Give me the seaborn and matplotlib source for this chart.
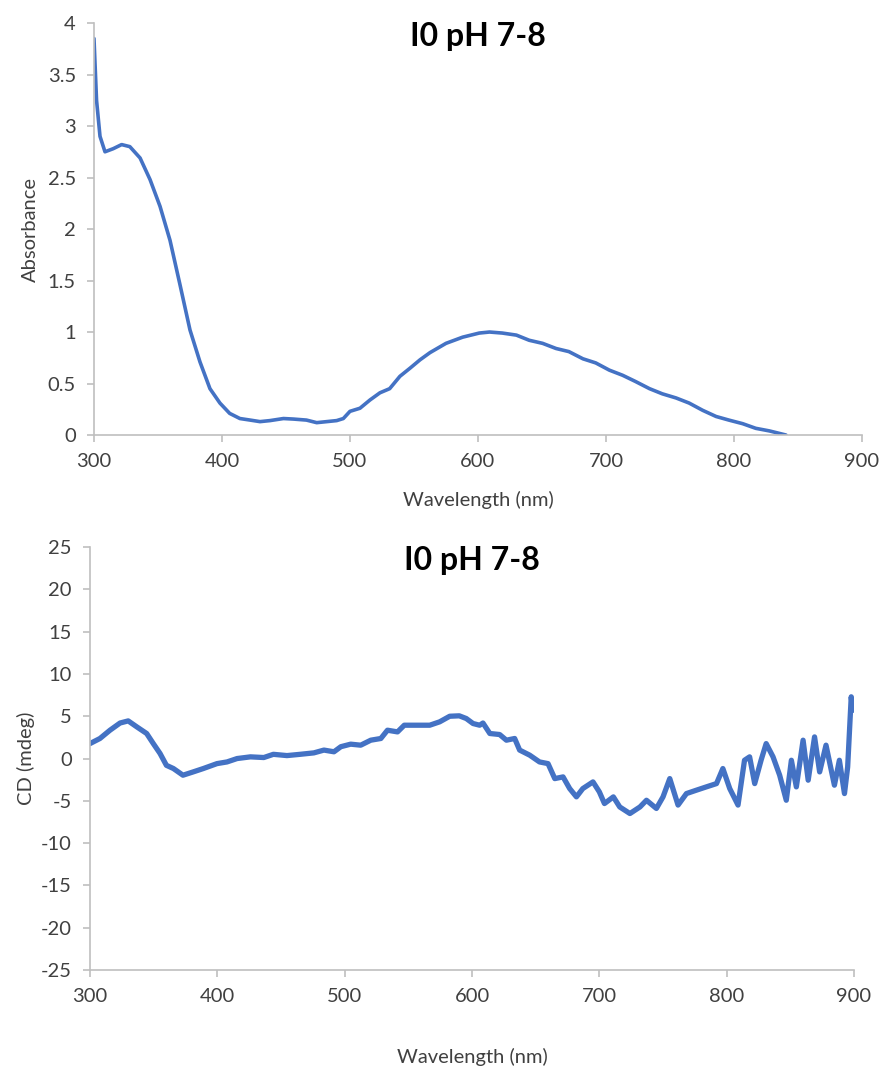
import matplotlib
matplotlib.use("Agg")
import matplotlib.pyplot as plt
import seaborn as sns
from matplotlib.ticker import FuncFormatter

# data
abs_wl = [300, 302, 304.7, 308.6, 315, 321.6, 328, 336, 343.8, 351.6, 359.4, 367, 375,
          382.8, 390.6, 398.4, 406, 414, 422, 429.7, 437.5, 448, 455.7, 466, 474, 481.8,
          489.6, 494.8, 500, 507.8, 515.6, 523.4, 531, 539, 547, 554.7, 562.5, 575, 588,
          601, 609, 619, 630, 640, 650.5, 661, 671, 682, 692, 702.6, 713, 723, 734, 744,
          754.7, 765, 775.5, 786, 796, 806.8, 817, 827.6, 840.6]
absorbance = [3.85, 3.25, 2.9, 2.75, 2.78, 2.82, 2.8, 2.69, 2.48, 2.22, 1.89, 1.47, 1.02,
              0.71, 0.45, 0.31, 0.21, 0.16, 0.145, 0.13, 0.14, 0.16, 0.155, 0.145, 0.12, 0.13,
              0.14, 0.16, 0.23, 0.26, 0.34, 0.41, 0.45, 0.57, 0.65, 0.73, 0.8, 0.89, 0.95,
              0.99, 1.0, 0.99, 0.97, 0.92, 0.89, 0.84, 0.81, 0.74, 0.7, 0.63, 0.58, 0.52, 0.45,
              0.4, 0.36, 0.31, 0.24, 0.18, 0.145, 0.11, 0.065, 0.04, 0.0]

cd_wl = [300, 307.8, 315.7, 323.6, 330, 336.7, 344.5, 349.7, 355, 360, 365.5, 373, 381,
         389, 399.7, 407.6, 415.5, 426, 436.5, 444, 454.7, 465, 475.8, 483.7, 491.6, 497,
         504.7, 512.6, 520.5, 528.4, 533.6, 541.5, 546.8, 557.3, 566.8, 574.6, 582.5, 590,
         595.5, 600.8, 606, 608.6, 614, 621.7, 627, 633.5, 637.4, 645.3, 653, 659.7, 665,
         671.5, 676.7, 682, 687, 695, 700, 704, 711, 716, 724, 731.9, 737, 744.8, 750,
         755.3, 761.8, 768.4, 776, 784, 792, 797, 802.4, 808.9, 814, 818, 822, 827, 831,
         836.4, 841.6, 846.8, 850.8, 854.7, 860, 864, 869, 873, 878, 884.6, 888.5, 892.5,
         895, 897.8, 899]
cd = [1.77, 2.37, 3.35, 4.2, 4.45, 3.75, 2.96, 1.77, 0.6, -0.8, -1.18, -1.97, -1.58,
      -1.18, -0.6, -0.4, 0.0, 0.2, 0.12, 0.5, 0.35, 0.5, 0.67, 1.0, 0.8, 1.4,
      1.7, 1.58, 2.17, 2.37, 3.35, 3.15, 3.94, 3.94, 3.94, 4.34, 5.0, 5.05,
      4.73, 4.14, 3.94, 4.2, 2.96, 2.84, 2.17, 2.37, 1.0, 0.4, -0.4, -0.6, -2.37,
      -2.17, -3.55, -4.53, -3.55, -2.76, -3.94, -5.32, -4.53, -5.72, -6.5, -5.72, -4.93, -5.9, -4.53,
      -2.37, -5.5, -4.14, -3.75, -3.35, -2.96, -1.18, -3.55, -5.5, -0.2, 0.2, -2.96, -0.2, 1.77,
      0.2, -1.97, -4.93, -0.2, -3.35, 2.17, -2.56, 2.56, -1.58, 1.58, -3.15, -0.2, -4.14,
      -1.0, 7.3, 5.7]

title = "I0 pH 7-8"
x_ticks = [300, 400, 500, 600, 700, 800, 900]

sns.set_theme(style="white")
plt.rcParams['font.family'] = ['Lato', 'DejaVu Sans']

blue = "#4472C4"
grey = "#BFBFBF"
txt = "#404040"

fig = plt.figure(figsize=(8.85, 10.72), dpi=100)
ax1 = fig.add_axes([0.1062, 0.5942, 0.8678, 0.3843])
ax2 = fig.add_axes([0.1017, 0.0951, 0.8633, 0.3946])

sns.lineplot(x=abs_wl, y=absorbance, ax=ax1, color=blue, linewidth=2.6)
sns.lineplot(x=cd_wl, y=cd, ax=ax2, color=blue, linewidth=3.8)

fmt = FuncFormatter(lambda v, p: "{:g}".format(v))

for ax in (ax1, ax2):
    ax.set_xlim(300, 900)
    ax.set_xticks(x_ticks)
    for s in ("top", "right"):
        ax.spines[s].set_visible(False)
    for s in ("left", "bottom"):
        ax.spines[s].set_color(grey)
        ax.spines[s].set_linewidth(1.2)
    ax.tick_params(axis="both", which="major", direction="out", length=5, width=1.2,
                   color=grey, labelsize=14.5, labelcolor=txt, pad=8,
                   left=True, bottom=True)
    ax.yaxis.set_major_formatter(fmt)
    ax.set_title(title, fontsize=23, fontweight="bold", color="black", y=0.925)

ax1.set_ylim(0, 4)
ax1.set_yticks([0, 0.5, 1, 1.5, 2, 2.5, 3, 3.5, 4])
ax1.set_xlabel("Wavelength (nm)", fontsize=14.5, color=txt, labelpad=15)
ax1.set_ylabel("Absorbance", fontsize=14.5, color=txt, labelpad=6)

ax2.set_ylim(-25, 25)
ax2.set_yticks([-25, -20, -15, -10, -5, 0, 5, 10, 15, 20, 25])
ax2.set_xlabel("Wavelength (nm)", fontsize=14.5, color=txt, labelpad=31)
ax2.set_ylabel("CD (mdeg)", fontsize=14.5, color=txt, labelpad=4)

fig.savefig("out.png", dpi=100)
